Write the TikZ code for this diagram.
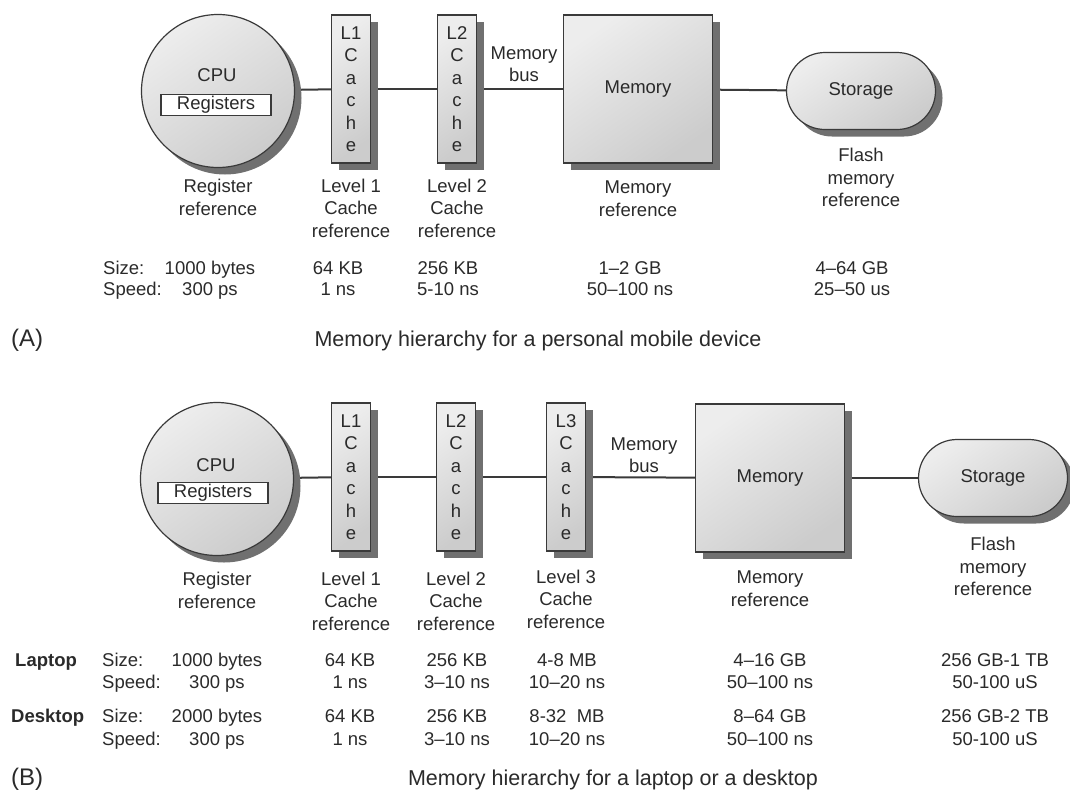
\documentclass[tikz,border=0pt]{standalone}
\usepackage{fontspec}
\setmainfont{Liberation Sans}
\usetikzlibrary{shapes.misc,shadows,positioning,backgrounds}
\definecolor{edge}{HTML}{3A3A3A}
\definecolor{shade}{HTML}{707070}
\definecolor{ink}{HTML}{2A2A2A}
\tikzset{
  unit/.style={draw=edge,line width=1.2pt,top color=gray!14,bottom color=gray!40,shading angle=35,
    drop shadow={shadow xshift=7pt,shadow yshift=-7pt,fill=shade,opacity=1},
    font=\fontsize{18.5}{22.5}\selectfont,text=ink,align=center,inner sep=0pt},
  cpu/.style={unit,circle,minimum size=153pt},
  cache/.style={unit,minimum width=39pt,minimum height=148pt},
  mem/.style={unit,minimum width=149pt,minimum height=148pt},
  store/.style={unit,rounded rectangle,minimum width=149pt,minimum height=77pt},
  regs/.style={draw=edge,fill=white,line width=1.1pt,minimum width=110pt,minimum height=21pt,inner sep=0pt,font=\fontsize{18.5}{22.5}\selectfont,text=ink},
  link/.style={draw=edge,line width=2pt},
  lbl/.style={align=center,inner sep=0pt,font=\fontsize{18.5}{22.5}\selectfont,text=ink},
  tab/.style={inner sep=0pt,anchor=base,font=\fontsize{18.5}{22}\selectfont,text=ink},
  captxt/.style={inner sep=0pt,anchor=base,font=\fontsize{21.5}{24}\selectfont,text=ink},
  tag/.style={inner sep=0pt,anchor=base west,font=\fontsize{24}{26}\selectfont,text=ink}
}
\begin{document}
\begin{tikzpicture}[x=1pt,y=-1pt]
  \useasboundingbox (0,0) rectangle (1070,793);

  % (A) personal mobile device
  \node[cpu] (cpuA) at (218,91) {};
  \node[lbl] (cpuTxtA) at (217,75) {CPU};
  \node[regs] (regsA) at (216,105) {Registers};
  \node[cache] (l1A) at (351,89) {L1\\C\\a\\c\\h\\e};
  \node[cache] (l2A) at (457,89) {L2\\C\\a\\c\\h\\e};
  \node[mem] (memA) at (638,89) {Memory};
  \node[store] (stoA) at (861,91) {Storage};
  \node[lbl] (busA) at (524,64) {Memory\\bus};
  \begin{scope}[on background layer]
    \draw[link] (cpuA) -- (l1A);
    \draw[link] (l1A) -- (l2A);
    \draw[link] (l2A) -- (memA);
    \draw[link] (memA) -- (stoA);
  \end{scope}
  \node[lbl,below=11pt of cpuA] (refRegA) {Register\\reference};
  \node[lbl,below=15pt of l1A] (refL1A) {Level 1\\Cache\\reference};
  \node[lbl,below=15pt of l2A] (refL2A) {Level 2\\Cache\\reference};
  \node[lbl,below=17pt of memA] (refMemA) {Memory\\reference};
  \node[lbl,below=18pt of stoA] (refStoA) {Flash\\memory\\reference};

  \node[tab,anchor=base west] (sizeA) at (103,274) {Size:};
  \node[tab,anchor=base west] (speedA) at (103,295) {Speed:};
  \foreach \x/\s/\t [count=\i] in {210/1000 bytes/300 ps,338/64 KB/1 ns,448/256 KB/5-10 ns,
      630/1–2 GB/50–100 ns,852/4–64 GB/25–50 us}{
    \node[tab] (szA\i) at (\x,274) {\s};
    \node[tab] (spA\i) at (\x,295) {\t};
  }
  \node[tag] (tagA) at (11,346) {(A)};
  \node[captxt] (capA) at (538,346) {Memory hierarchy for a personal mobile device};

  % (B) laptop or desktop
  \node[cpu] (cpuB) at (217,479) {};
  \node[lbl] (cpuTxtB) at (216,465) {CPU};
  \node[regs] (regsB) at (213,493) {Registers};
  \node[cache] (l1B) at (351,477) {L1\\C\\a\\c\\h\\e};
  \node[cache] (l2B) at (456,477) {L2\\C\\a\\c\\h\\e};
  \node[cache] (l3B) at (566,477) {L3\\C\\a\\c\\h\\e};
  \node[mem] (memB) at (770,478) {Memory};
  \node[store] (stoB) at (993,478) {Storage};
  \node[lbl] (busB) at (644,455) {Memory\\bus};
  \begin{scope}[on background layer]
    \draw[link] (cpuB) -- (l1B);
    \draw[link] (l1B) -- (l2B);
    \draw[link] (l2B) -- (l3B);
    \draw[link] (l3B) -- (memB);
    \draw[link] (memB) -- (stoB);
  \end{scope}
  \node[lbl,below=16pt of cpuB] (refRegB) {Register\\reference};
  \node[lbl,below=20pt of l1B] (refL1B) {Level 1\\Cache\\reference};
  \node[lbl,below=20pt of l2B] (refL2B) {Level 2\\Cache\\reference};
  \node[lbl,below=18pt of l3B] (refL3B) {Level 3\\Cache\\reference};
  \node[lbl,below=18pt of memB] (refMemB) {Memory\\reference};
  \node[lbl,below=20pt of stoB] (refStoB) {Flash\\memory\\reference};

  \node[tab,anchor=base west,font=\bfseries\fontsize{18.5}{22}\selectfont] (laptop) at (15,666) {Laptop};
  \node[tab,anchor=base west] (sizeL) at (102,666) {Size:};
  \node[tab,anchor=base west] (speedL) at (102,688) {Speed:};
  \foreach \x/\s/\t [count=\i] in {217/1000 bytes/300 ps,350/64 KB/1 ns,457/256 KB/3–10 ns,
      567/4-8 MB/10–20 ns,770/4–16 GB/50–100 ns,995/256 GB-1 TB/50-100 uS}{
    \node[tab] (szL\i) at (\x,666) {\s};
    \node[tab] (spL\i) at (\x,688) {\t};
  }
  \node[tab,anchor=base west,font=\bfseries\fontsize{18.5}{22}\selectfont] (desktop) at (11,722) {Desktop};
  \node[tab,anchor=base west] (sizeD) at (102,722) {Size:};
  \node[tab,anchor=base west] (speedD) at (102,745) {Speed:};
  \foreach \x/\s/\t [count=\i] in {217/2000 bytes/300 ps,350/64 KB/1 ns,457/256 KB/3–10 ns,
      567/8-32\ \ MB/10–20 ns,770/8–64 GB/50–100 ns,995/256 GB-2 TB/50-100 uS}{
    \node[tab] (szD\i) at (\x,722) {\s};
    \node[tab] (spD\i) at (\x,745) {\t};
  }
  \node[tag] (tagB) at (11,785) {(B)};
  \node[captxt] (capB) at (613,785) {Memory hierarchy for a laptop or a desktop};
\end{tikzpicture}
\end{document}
